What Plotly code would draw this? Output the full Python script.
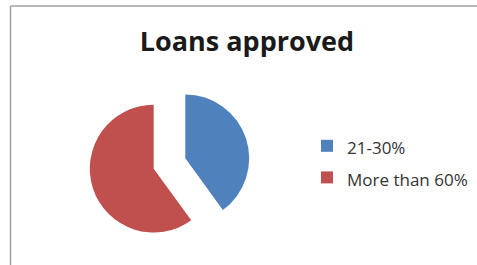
import plotly.graph_objects as go

labels = ["21-30%", "More than 60%"]
values = [40, 60]
colors = ["#4F81BD", "#C0504D"]

W, H = 477, 265

legend_labels = [f'<span style="font-size:17px">{l}</span>' for l in labels]

fig = go.Figure(go.Pie(
    labels=legend_labels,
    values=values,
    marker=dict(colors=colors, line=dict(width=0)),
    sort=False,
    direction="clockwise",
    rotation=0,
    pull=[0.26, 0.26],
    textinfo="none",
    hoverinfo="label+value",
    domain=dict(x=[89 / W, 250 / W], y=[1 - 244 / H, 1 - 83 / H]),
))

fig.update_layout(
    width=W, height=H,
    margin=dict(l=0, r=0, t=0, b=0),
    paper_bgcolor="white",
    plot_bgcolor="white",
    title=dict(
        text="<b>Loans approved</b>",
        x=247 / W, xanchor="center",
        y=1 - 42 / H, yanchor="middle",
        font=dict(family="Open Sans", size=27, color="#1a1a1a"),
    ),
    legend=dict(
        x=307 / W, xanchor="left",
        y=1 - 162 / H, yanchor="middle",
        font=dict(family="Open Sans", size=22, color="#333333"),
        bgcolor="rgba(0,0,0,0)",
    ),
    shapes=[
        dict(type="line", xref="paper", yref="paper",
             x0=10.5 / W, x1=1, y0=1 - 6 / H, y1=1 - 6 / H,
             line=dict(color="#A0A0A0", width=1.5)),
        dict(type="line", xref="paper", yref="paper",
             x0=10.5 / W, x1=10.5 / W, y0=0, y1=1 - 6 / H,
             line=dict(color="#A0A0A0", width=1.5)),
    ],
)

fig.write_html("out.html", config={"displayModeBar": False},
               post_script="document.body.style.margin='0';")
